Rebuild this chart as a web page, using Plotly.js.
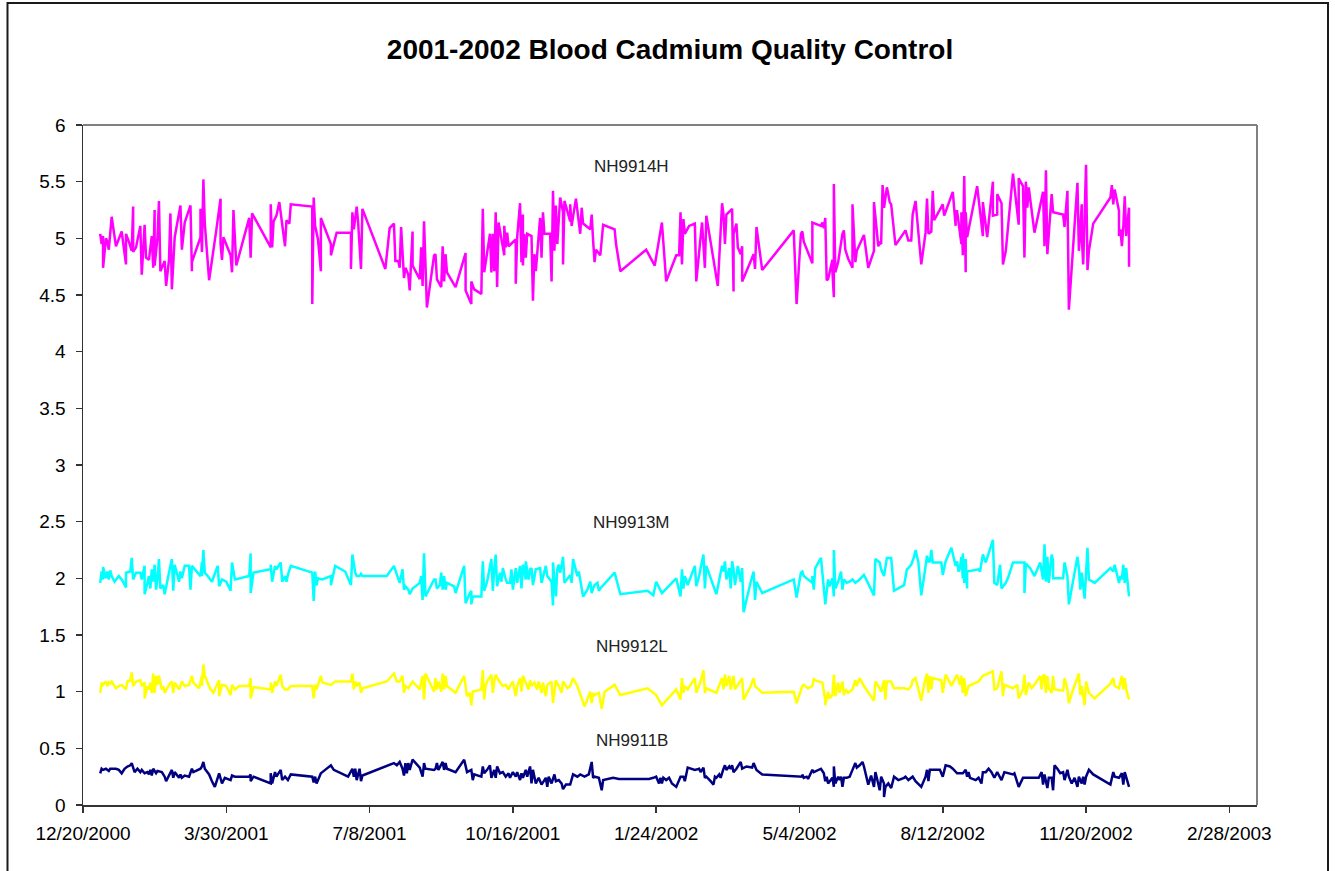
<!DOCTYPE html>
<html>
<head>
<meta charset="utf-8">
<script src="https://cdn.plot.ly/plotly-3.0.1.min.js"></script>
<style>
  html, body { margin: 0; padding: 0; background: #ffffff; }
  #chart { width: 1335px; height: 871px; }
</style>
</head>
<body>
<div id="chart"></div>
<script>
// Dates are stored as Excel date serial numbers (day 36880 = 12/20/2000)
const seriesNames = ["NH9914H", "NH9913M", "NH9912L", "NH9911B"];
const seriesColors = ["#FF00FF", "#00FFFF", "#FFFF00", "#000080"];

const nh9914hDates = [
  36892,36893,36894,36894,36896,36897,36898,36899,36900,36903,
  36907,36910,36910,36912,36914,36915,36915,36917,36920,36921,
  36922,36923,36924,36926,36928,36929,36930,36930,36932,36933,
  36934,36937,36938,36940,36941,36942,36944,36948,36949,36951,
  36955,36956,36956,36962,36962,36963,36964,36965,36968,36973,
  36976,36976,36977,36978,36983,36984,36985,36987,36996,36997,
  36998,37011,37011,37012,37013,37015,37017,37021,37022,37024,
  37025,37040,37040,37041,37042,37044,37046,37046,37053,37053,
  37057,37067,37067,37068,37069,37071,37072,37074,37075,37091,
  37094,37097,37098,37100,37101,37102,37103,37104,37105,37107,
  37108,37110,37110,37115,37116,37117,37118,37120,37125,
  37126,37127,37130,37131,37132,37133,37134,37140,37147,37147,
  37151,37151,37153,37158,37159,37160,37164,37165,37166,37167,
  37168,37169,37170,37174,37174,37175,37176,37177,37182,37182,
  37183,37185,37186,37187,37187,37188,37189,37190,37193,37194,
  37195,37196,37199,37200,37201,37202,37206,37207,37208,37209,
  37210,37211,37213,37215,37215,37216,37220,37220,37221,37224,
  37227,37228,37229,37234,37235,37236,37237,37238,37241,37243,
  37251,37252,37255,37273,37279,37284,37287,37294,37296,37297,
  37298,37299,37300,37303,37307,37308,37312,37314,37315,37323,
  37326,37327,37328,37329,37333,37334,37334,37336,37337,37339,
  37340,37340,37348,37349,37350,37354,
  37376,37378,37381,37382,37383,37389,37389,37395,37396,37397,
  37398,37399,37400,37403,37403,37404,37404,37405,37407,37410,
  37411,37412,37414,37417,37417,37419,37420,37425,37428,37432,
  37432,37435,37436,37437,37438,37439,37441,37443,37444,37447,
  37454,37456,37458,37459,37461,37465,37468,37469,37470,37472,
  37473,37474,37480,37481,37487,37489,37489,37490,37493,37493,
  37494,37494,37495,37496,37496,37497,37504,37508,37508,37511,
  37515,37515,37518,37518,37521,37522,37524,37529,37533,37533,
  37536,37537,37538,37539,37540,37544,37550,37551,37552,37553,
  37554,37556,37557,37564,37565,37567,37567,37568,37574,37575,
  37577,37577,37578,37580,37581,37582,37585,37597,37598,37599,
  37600,37603,37603,37604,37605,37606,37607,37608,37610,37610
];
const nh9914hValues = [
  5.04,4.95,5.02,4.74,5.00,4.97,4.90,5.06,5.19,4.93,
  5.06,4.77,5.04,4.97,4.89,5.28,4.88,4.92,5.11,4.68,
  4.89,5.12,4.83,4.81,5.02,4.74,5.25,4.76,5.01,5.33,
  4.71,4.80,4.58,4.81,5.22,4.55,5.01,5.29,4.90,5.14,
  5.29,4.71,4.79,5.01,5.26,4.88,5.52,5.13,4.63,5.07,
  5.35,4.95,4.81,5.01,4.85,4.70,5.25,4.76,5.18,4.83,
  5.22,4.92,5.30,4.92,5.15,5.20,5.32,4.93,5.16,5.13,
  5.30,5.28,4.42,5.36,5.11,4.99,4.71,5.18,4.95,4.85,
  5.05,5.05,4.73,5.23,5.08,5.28,5.14,4.73,5.26,4.73,
  5.09,5.13,4.80,4.80,4.74,5.10,4.83,4.65,4.74,4.68,
  4.54,5.06,4.76,4.64,4.92,4.58,5.15,4.39,4.85,
  4.86,4.64,4.57,4.93,4.62,4.86,4.70,4.57,4.87,4.54,
  4.42,4.62,4.55,4.51,5.26,4.70,5.04,4.70,5.04,4.71,
  5.23,4.57,5.14,4.85,5.11,4.92,5.05,4.93,4.99,4.60,
  5.01,5.31,4.79,5.21,4.76,5.04,4.83,5.04,5.02,4.45,
  4.86,4.71,5.18,4.83,5.23,5.04,5.04,4.62,5.42,4.89,
  5.29,4.95,5.36,5.23,4.77,5.33,5.15,5.30,5.11,5.35,
  5.04,5.27,5.13,5.08,5.21,4.98,4.79,4.90,4.85,5.12,
  5.08,4.95,4.71,4.90,4.76,5.14,4.62,4.85,4.85,5.23,
  4.77,5.17,5.04,5.11,5.13,4.62,5.14,4.74,5.20,4.58,
  5.31,5.21,4.95,5.21,5.26,4.53,5.04,5.13,4.92,4.86,
  4.93,4.62,4.86,4.73,5.10,4.72,
  5.07,4.42,5.04,5.06,4.97,4.78,5.14,5.11,5.14,5.09,
  5.18,4.63,4.64,4.81,4.71,4.48,5.48,4.70,4.79,5.04,
  5.07,4.90,4.82,4.74,5.30,4.79,4.89,5.03,4.74,4.89,
  5.32,4.93,4.96,4.95,5.47,5.27,5.45,5.32,5.30,4.94,
  5.07,4.98,4.98,5.21,5.33,4.77,5.05,5.35,5.04,5.06,
  5.42,5.16,5.30,5.20,5.41,5.11,5.24,5.24,4.95,5.23,
  4.85,4.86,5.55,4.70,5.23,5.01,5.46,5.02,5.32,5.01,
  5.50,5.20,5.21,5.39,5.31,4.77,4.89,5.57,5.12,5.53,
  5.46,4.83,5.50,5.27,5.45,5.05,5.41,4.93,5.60,4.86,
  5.04,5.39,5.23,5.21,5.10,5.42,5.41,4.37,5.49,4.89,
  5.30,5.02,4.77,5.65,4.72,4.89,5.13,5.36,5.47,5.30,
  5.43,5.24,5.02,5.08,4.93,5.10,5.37,5.02,5.27,4.75
];

const nh9913mDates = [
  36892,36893,36894,36894,36896,36897,36898,36899,36900,36902,
  36905,36907,36910,36910,36913,36914,36915,36917,36920,36921,
  36923,36923,36925,36926,36927,36928,36929,36930,36931,36932,
  36933,36934,36936,36937,36940,36942,36943,36944,36947,36948,
  36949,36951,36954,36955,36956,36962,36963,36963,36964,36965,
  36967,36970,36974,36975,36977,36980,36983,36984,36986,36996,
  36997,36997,36999,37011,37011,37012,37014,37015,37018,37019,
  37021,37022,37023,37025,37040,37041,37042,37043,37044,37047,
  37053,37053,37056,37063,37067,37068,37070,37071,37073,37074,
  37075,37092,37097,37099,37101,37103,37104,37105,37107,37108,
  37110,37115,37116,37117,37118,37119,37125,
  37126,37127,37129,37130,37131,37132,37133,37134,37139,37140,
  37146,37147,37150,37151,37151,37152,37158,37159,37160,37162,
  37165,37166,37167,37168,37169,37171,37172,37173,37175,37176,
  37178,37179,37180,37182,37183,37185,37186,37187,37189,37189,
  37191,37192,37193,37194,37196,37199,37200,37203,37204,37207,
  37208,37208,37210,37211,37212,37213,37214,37215,37216,37218,
  37220,37221,37222,37225,37226,37229,37232,37234,37235,37236,
  37237,37239,37240,37241,37251,37255,37274,37278,37280,37284,
  37294,37297,37298,37299,37300,37302,37307,37308,37310,37311,
  37313,37314,37315,37322,37326,37327,37328,37329,37331,37332,
  37333,37334,37335,37337,37339,37340,37341,37346,37348,37349,
  37350,37354,
  37376,37378,37381,37382,37383,37386,37389,37389,37390,37391,
  37395,37398,37398,37400,37401,37403,37404,37404,37405,37407,
  37408,37409,37410,37411,37413,37415,37417,37419,37422,37425,
  37432,37433,37436,37437,37439,37441,37444,37446,37453,37455,
  37456,37458,37460,37461,37463,37465,37467,37469,37470,37470,
  37471,37472,37473,37479,37480,37482,37486,37489,37490,37491,
  37492,37493,37494,37494,37495,37496,37497,37497,37505,37506,
  37508,37510,37515,37516,37518,37520,37521,37524,37526,37529,
  37537,37537,37538,37541,37544,37548,37550,37551,37552,37553,
  37554,37556,37557,37557,37564,37565,37567,37568,37574,37575,
  37576,37577,37579,37581,37582,37586,37597,37599,37600,37603,
  37604,37605,37606,37607,37608,37610
];
const nh9913mValues = [
  1.96,2.06,1.99,2.10,2.00,2.06,1.99,2.07,2.02,1.97,
  2.02,1.99,1.92,2.05,2.06,2.18,1.99,2.05,2.05,1.99,
  2.11,1.86,1.96,2.02,1.91,2.08,1.97,2.12,1.90,2.00,
  2.17,1.91,1.94,1.86,2.05,2.17,1.89,2.12,1.97,2.06,
  2.00,2.11,2.11,1.90,2.11,2.02,2.14,2.02,2.25,2.05,
  2.02,1.97,2.11,1.93,1.99,1.97,1.89,2.14,1.99,2.02,
  2.22,1.87,2.05,2.08,2.12,1.97,2.11,2.08,2.14,1.97,
  2.02,1.97,2.03,2.11,2.05,1.80,2.06,1.94,2.00,1.99,
  2.02,1.94,2.11,2.06,1.94,2.21,2.05,2.02,2.02,2.04,
  2.02,2.02,2.11,2.03,1.96,2.08,1.90,1.93,1.90,1.86,
  1.91,1.96,2.02,1.81,2.22,1.84,1.99,
  1.99,1.91,1.94,2.05,1.90,2.02,1.90,1.96,1.93,1.87,
  2.11,1.78,1.87,1.89,1.77,1.84,1.84,2.15,1.89,1.97,
  2.17,1.89,2.08,2.21,1.93,2.05,1.97,2.09,1.99,1.96,
  1.96,2.08,1.90,2.09,1.96,2.11,1.91,2.12,1.99,2.15,
  1.99,2.08,2.09,1.94,2.08,2.09,1.96,2.11,2.02,1.97,
  1.76,2.14,1.84,2.08,2.12,2.05,2.11,2.19,1.96,1.99,
  2.03,1.96,2.17,2.02,2.06,1.84,1.90,1.97,1.87,1.91,
  1.94,1.96,1.89,1.91,2.05,1.86,1.89,1.85,1.97,1.87,
  2.00,1.84,2.08,1.91,2.02,1.94,2.11,1.93,2.02,2.09,
  2.21,1.91,2.11,1.86,2.11,2.06,2.15,1.99,2.09,1.91,
  2.15,2.08,1.94,2.11,1.97,2.09,1.70,1.97,2.06,1.81,
  1.97,1.87,
  1.99,1.83,2.05,2.06,2.02,1.99,1.96,2.02,1.90,2.09,
  2.18,1.78,1.77,1.99,1.93,2.00,1.84,2.25,1.91,1.97,
  2.02,2.06,1.90,1.99,1.96,1.97,1.99,1.96,1.99,2.03,
  1.85,2.17,2.14,2.08,2.02,2.18,2.18,1.89,1.94,2.08,
  2.09,2.12,2.19,2.25,2.14,1.85,2.02,2.20,2.14,2.18,
  2.14,2.25,2.14,2.14,2.03,2.15,2.27,2.11,2.15,2.06,
  2.09,2.19,2.00,2.22,1.96,2.17,1.91,2.06,2.08,2.06,
  2.21,2.14,2.34,1.96,1.94,2.12,1.91,1.96,2.02,2.14,
  2.14,1.87,2.13,2.09,2.02,2.14,1.99,2.30,1.97,2.19,
  1.96,2.21,2.15,2.00,2.00,2.14,2.02,1.77,2.19,2.09,
  1.90,2.05,1.82,2.27,1.99,1.96,2.09,2.06,2.12,1.96,
  2.02,1.99,2.12,1.96,2.09,1.84
];

const nh9912lDates = [
  36892,36893,36894,36896,36897,36898,36899,36900,36903,36905,
  36907,36910,36911,36913,36914,36915,36917,36920,36921,36923,
  36923,36925,36926,36927,36928,36929,36930,36931,36932,36933,
  36935,36936,36937,36940,36942,36943,36944,36947,36948,36949,
  36951,36954,36956,36957,36961,36963,36963,36964,36965,36967,
  36969,36971,36975,36975,36977,36980,36983,36984,36986,36989,
  36996,36997,36997,36999,37011,37011,37012,37014,37015,37018,
  37019,37021,37023,37025,37040,37041,37042,37043,37046,37047,
  37053,37056,37067,37068,37069,37070,37071,37073,37074,37075,
  37092,37097,37099,37101,37103,37104,37105,37107,37110,37115,
  37117,37118,37119,37125,
  37126,37127,37128,37130,37131,37132,37133,37134,37140,37146,
  37148,37150,37151,37152,37158,37159,37160,37161,37162,37165,
  37166,37167,37168,37170,37171,37173,37175,37177,37178,37180,
  37182,37183,37185,37186,37187,37189,37191,37192,37193,37195,
  37197,37198,37200,37201,37203,37204,37207,37208,37210,37212,
  37214,37215,37218,37220,37222,37225,37230,37232,37234,37235,
  37236,37237,37240,37242,37244,37251,37255,37274,37278,37280,
  37284,37294,37297,37298,37299,37300,37302,37307,37308,37310,
  37311,37313,37314,37315,37322,37326,37327,37328,37329,37331,
  37332,37334,37335,37337,37340,37341,37346,37348,37349,37354,
  37376,37378,37382,37383,37386,37389,37390,37391,37393,37396,
  37398,37398,37400,37401,37403,37404,37405,37407,37408,37410,
  37411,37412,37414,37417,37419,37420,37422,37425,37432,37433,
  37435,37437,37439,37440,37441,37444,37446,37453,37456,37458,
  37459,37461,37465,37467,37469,37470,37471,37472,37473,37479,
  37480,37482,37485,37486,37490,37492,37493,37494,37495,37496,
  37498,37505,37508,37512,37515,37516,37518,37521,37522,37523,
  37529,37532,37533,37536,37537,37538,37540,37542,37544,37548,
  37549,37550,37551,37552,37553,37554,37556,37557,37558,37564,
  37565,37567,37568,37571,37574,37575,37576,37577,37579,37580,
  37582,37586,37597,37599,37600,37603,37605,37606,37607,37608,
  37610
];
const nh9912lValues = [
  0.99,1.08,1.06,1.09,1.05,1.08,1.07,1.09,1.03,1.05,
  1.06,1.02,1.09,1.10,1.17,1.05,1.09,1.10,1.05,1.08,
  0.94,1.05,1.02,1.08,0.99,1.16,0.99,1.14,1.06,1.14,
  1.02,1.05,0.99,1.06,1.09,0.99,1.08,1.02,1.05,1.09,
  1.05,1.06,1.14,1.08,1.03,1.14,1.05,1.24,1.14,1.08,
  1.02,0.99,1.10,0.96,1.06,1.05,0.97,1.06,1.02,1.05,
  1.05,1.12,0.94,1.04,1.02,1.08,0.99,1.09,1.05,1.15,
  1.05,1.02,1.02,1.05,1.05,0.94,1.06,1.02,1.14,1.08,
  1.06,1.09,1.09,1.16,1.02,1.09,1.05,1.08,0.99,1.03,
  1.09,1.16,1.09,1.09,1.14,0.99,1.05,1.03,1.09,1.02,
  1.14,0.93,1.16,1.00,
  1.12,1.02,1.09,1.00,1.16,1.02,1.14,1.05,0.99,1.14,
  0.96,0.99,0.88,1.00,1.02,1.19,0.93,1.05,1.09,1.15,
  0.99,1.09,1.15,1.10,1.08,1.05,1.06,1.02,1.05,1.09,
  0.96,1.05,1.12,1.00,1.14,1.08,1.02,1.10,1.05,1.08,
  1.02,1.09,0.99,1.08,0.96,1.06,1.09,0.90,1.10,1.05,
  0.99,1.09,1.03,1.05,1.12,1.05,0.87,0.93,1.00,0.90,
  0.99,0.97,0.99,0.85,1.00,1.06,0.97,1.03,0.99,0.97,
  0.88,1.02,0.93,1.12,0.99,1.05,1.02,1.12,0.99,1.05,
  1.09,1.19,0.99,1.03,0.99,1.12,1.02,1.15,1.05,1.14,
  1.02,1.14,1.02,1.06,1.12,0.93,1.05,1.12,1.05,0.99,
  1.00,0.90,1.05,1.06,1.03,1.05,1.11,1.10,1.09,1.08,
  0.93,0.88,1.00,0.94,0.97,1.15,0.96,1.08,0.99,1.09,
  0.97,1.02,0.99,1.02,1.10,1.05,1.12,1.05,0.92,1.09,
  1.05,1.00,1.10,0.93,1.09,1.09,1.03,1.03,1.02,1.05,
  1.10,1.12,0.92,1.06,1.16,0.99,1.14,1.02,1.12,1.10,
  0.99,1.15,1.08,1.05,1.15,1.06,1.14,0.99,1.12,0.96,
  1.05,1.09,1.14,1.16,1.18,1.02,1.03,1.18,0.96,1.06,
  1.03,1.06,0.94,1.02,1.15,0.97,1.08,1.03,1.06,1.14,
  1.02,1.14,1.15,0.99,1.14,1.03,0.99,1.14,1.02,1.01,
  1.12,1.02,0.90,1.02,1.14,1.16,0.97,1.05,0.88,1.09,
  0.99,0.94,1.07,1.12,1.05,1.03,1.14,1.02,1.12,1.02,
  0.93
];

const nh9911bDates = [
  36892,36893,36894,36896,36898,36899,36900,36903,36905,36907,
  36909,36911,36913,36914,36916,36918,36920,36921,36923,36925,
  36926,36927,36928,36929,36931,36932,36935,36937,36938,36940,
  36942,36943,36944,36947,36948,36949,36951,36954,36956,36957,
  36962,36963,36964,36965,36968,36970,36972,36974,36975,36977,
  36979,36983,36984,36986,36989,36996,36997,36997,36999,37011,
  37011,37012,37014,37015,37018,37019,37021,37023,37025,37040,
  37041,37042,37043,37046,37047,37053,37055,37058,37065,37068,
  37069,37070,37071,37073,37074,37075,37092,37097,37099,37101,
  37103,37104,37105,37106,37107,37108,37110,37115,37117,37118,
  37119,37125,
  37126,37127,37128,37130,37131,37132,37133,37134,37140,37146,
  37148,37151,37152,37153,37158,37159,37160,37162,37164,37165,
  37167,37168,37169,37171,37173,37175,37177,37178,37180,37182,
  37183,37185,37186,37187,37189,37190,37192,37193,37194,37196,
  37198,37200,37203,37204,37205,37207,37209,37210,37212,37214,
  37215,37217,37220,37222,37225,37227,37230,37233,37235,37236,
  37237,37240,37241,37242,37243,37250,37254,37275,37278,37280,
  37282,37283,37284,37285,37287,37289,37291,37294,37297,37299,
  37300,37302,37307,37310,37311,37313,37314,37315,37318,37320,
  37321,37322,37324,37325,37327,37328,37329,37331,37332,37333,
  37334,37336,37339,37340,37343,37347,37348,37350,37354,
  37382,37382,37383,37385,37386,37389,37390,37395,37397,37398,
  37399,37400,37401,37403,37404,37404,37405,37407,37408,37409,
  37410,37411,37413,37415,37417,37419,37420,37422,37424,37425,
  37428,37430,37432,37433,37434,37436,37437,37439,37439,37440,
  37442,37444,37446,37447,37449,37453,37454,37456,37459,37461,
  37465,37468,37469,37470,37471,37473,37478,37480,37482,37485,
  37487,37490,37494,37496,37497,37498,37499,37503,37505,37507,
  37508,37510,37512,37514,37516,37518,37521,37523,37529,37530,
  37533,37536,37537,37544,37547,37549,37550,37551,37553,37554,
  37556,37557,37558,37560,37562,37564,37565,37567,37568,37570,
  37572,37574,37575,37577,37578,37579,37580,37582,37585,37597,
  37599,37600,37603,37605,37606,37607,37608,37610
];
const nh9911bValues = [
  0.28,0.32,0.31,0.32,0.30,0.32,0.32,0.32,0.31,0.28,
  0.32,0.34,0.35,0.37,0.29,0.32,0.29,0.31,0.28,0.29,
  0.27,0.31,0.26,0.32,0.28,0.30,0.29,0.25,0.21,0.26,
  0.31,0.24,0.29,0.24,0.27,0.24,0.26,0.25,0.32,0.29,
  0.32,0.34,0.38,0.32,0.27,0.21,0.16,0.24,0.28,0.19,
  0.24,0.22,0.26,0.25,0.25,0.25,0.27,0.21,0.25,0.19,
  0.28,0.19,0.29,0.25,0.31,0.22,0.25,0.22,0.27,0.25,
  0.20,0.25,0.19,0.28,0.29,0.35,0.31,0.29,0.25,0.32,
  0.25,0.32,0.22,0.32,0.21,0.26,0.34,0.37,0.35,0.38,
  0.32,0.26,0.37,0.28,0.37,0.31,0.40,0.33,0.25,0.37,
  0.32,0.31,
  0.32,0.37,0.31,0.35,0.38,0.31,0.37,0.32,0.29,0.40,
  0.29,0.31,0.22,0.27,0.25,0.34,0.28,0.31,0.35,0.24,
  0.31,0.24,0.34,0.28,0.29,0.25,0.28,0.24,0.29,0.25,
  0.29,0.22,0.28,0.24,0.31,0.25,0.34,0.19,0.31,0.19,
  0.24,0.18,0.24,0.16,0.25,0.19,0.27,0.21,0.22,0.19,
  0.14,0.18,0.18,0.27,0.25,0.27,0.25,0.27,0.38,0.24,
  0.25,0.24,0.19,0.13,0.22,0.24,0.23,0.23,0.24,0.25,
  0.19,0.24,0.19,0.24,0.22,0.24,0.19,0.16,0.25,0.25,
  0.21,0.33,0.31,0.32,0.29,0.33,0.24,0.25,0.21,0.18,
  0.25,0.24,0.27,0.24,0.32,0.35,0.31,0.34,0.32,0.35,
  0.29,0.32,0.38,0.32,0.34,0.33,0.37,0.31,0.27,
  0.25,0.27,0.24,0.25,0.23,0.31,0.29,0.32,0.28,0.21,
  0.25,0.19,0.21,0.24,0.16,0.34,0.19,0.25,0.22,0.25,
  0.16,0.24,0.24,0.25,0.31,0.37,0.33,0.35,0.38,0.34,
  0.18,0.26,0.16,0.29,0.24,0.13,0.25,0.19,0.07,0.16,
  0.19,0.15,0.25,0.24,0.22,0.24,0.25,0.22,0.25,0.21,
  0.16,0.25,0.31,0.21,0.31,0.31,0.31,0.25,0.35,0.34,
  0.32,0.28,0.28,0.31,0.25,0.29,0.24,0.22,0.24,0.19,
  0.29,0.29,0.32,0.29,0.24,0.29,0.22,0.29,0.27,0.28,
  0.16,0.24,0.24,0.24,0.24,0.29,0.18,0.27,0.15,0.24,
  0.24,0.13,0.35,0.32,0.28,0.29,0.22,0.31,0.25,0.19,
  0.24,0.16,0.25,0.19,0.25,0.18,0.25,0.31,0.27,0.18,
  0.29,0.25,0.24,0.28,0.18,0.29,0.24,0.16
];

// Label positions (serial date, value) for the in-chart series labels
const labelDates = [37263, 37263, 37263, 37263];
const labelValues = [5.63, 2.49, 1.40, 0.57];

// Axis settings
const xStartSerial = 36880;   // 12/20/2000
const xEndSerial = 37699.3;   // axis end, a little past 2/28/2003
const xTickStepDays = 100;
const yTickValues = [0, 0.5, 1, 1.5, 2, 2.5, 3, 3.5, 4, 4.5, 5, 5.5, 6];

function serialToDate(s) {
  const ms = Date.UTC(1899, 11, 30) + s * 86400000;
  const d = new Date(ms);
  return d.toISOString().replace('T', ' ').slice(0, 19);
}

const allDates = [nh9914hDates, nh9913mDates, nh9912lDates, nh9911bDates];
const allValues = [nh9914hValues, nh9913mValues, nh9912lValues, nh9911bValues];

const traces = allDates.map((dates, i) => ({
  type: 'scatter',
  mode: 'lines',
  name: seriesNames[i],
  x: dates.map(serialToDate),
  y: allValues[i],
  line: { color: seriesColors[i], width: 2.5 },
  hoverinfo: 'x+y+name'
}));

const fontFamily = '"Liberation Sans", Arial, Helvetica, sans-serif';

const annotations = seriesNames.map((name, i) => ({
  x: serialToDate(labelDates[i]),
  y: labelValues[i],
  xref: 'x',
  yref: 'y',
  text: name,
  showarrow: false,
  font: { family: fontFamily, size: 17, color: '#222222' },
  xanchor: 'center',
  yanchor: 'middle'
}));

const L = 83, R = 78, T = 125, B = 66;
const W = 1335, H = 871;
const pw = W - L - R, ph = H - T - B;
function px2paperX(px) { return (px - L) / pw; }
function px2paperY(py) { return (H - B - py) / ph; }

const shapes = [
  // plot area border (top and right, grey)
  { type: 'line', xref: 'paper', yref: 'paper', x0: 0, x1: 1, y0: 1, y1: 1,
    line: { color: '#808080', width: 2 } },
  { type: 'line', xref: 'paper', yref: 'paper', x0: 1, x1: 1, y0: 0, y1: 1,
    line: { color: '#808080', width: 2 } },
  // outer chart frame
  { type: 'rect', xref: 'paper', yref: 'paper',
    x0: px2paperX(7.5), x1: px2paperX(1328), y0: px2paperY(900), y1: px2paperY(3),
    line: { color: '#1a1a1a', width: 2 }, fillcolor: 'rgba(0,0,0,0)', layer: 'above' }
];

const layout = {
  width: W,
  height: H,
  margin: { l: L, r: R, t: T, b: B, pad: 0 },
  paper_bgcolor: '#ffffff',
  plot_bgcolor: '#ffffff',
  showlegend: false,
  title: {
    text: '<b>2001-2002 Blood Cadmium Quality Control</b>',
    font: { family: fontFamily, size: 28, color: '#000000' },
    x: 0.5, xref: 'paper', xanchor: 'center',
    y: 1 - 49 / H, yref: 'container', yanchor: 'middle'
  },
  xaxis: {
    type: 'date',
    range: [serialToDate(xStartSerial), serialToDate(xEndSerial)],
    tick0: serialToDate(xStartSerial),
    dtick: xTickStepDays * 86400000,
    tickformat: '%-m/%-d/%Y',
    showgrid: false,
    zeroline: false,
    showline: true,
    linecolor: '#333333',
    linewidth: 1.5,
    ticks: 'outside',
    ticklen: 6,
    tickwidth: 1.5,
    tickcolor: '#333333',
    ticklabelstandoff: 5,
    tickfont: { family: fontFamily, size: 19, color: '#000000' },
    fixedrange: true
  },
  yaxis: {
    range: [0, 6],
    tickvals: yTickValues,
    ticktext: yTickValues.map(String),
    showgrid: false,
    zeroline: false,
    showline: true,
    linecolor: '#333333',
    linewidth: 1.5,
    ticks: 'outside',
    ticklen: 6,
    tickwidth: 1.5,
    tickcolor: '#333333',
    ticklabelstandoff: 6,
    tickfont: { family: fontFamily, size: 19, color: '#000000' },
    fixedrange: true
  },
  annotations: annotations,
  shapes: shapes
};

Plotly.newPlot('chart', traces, layout, { displayModeBar: false, staticPlot: true });
</script>
</body>
</html>
